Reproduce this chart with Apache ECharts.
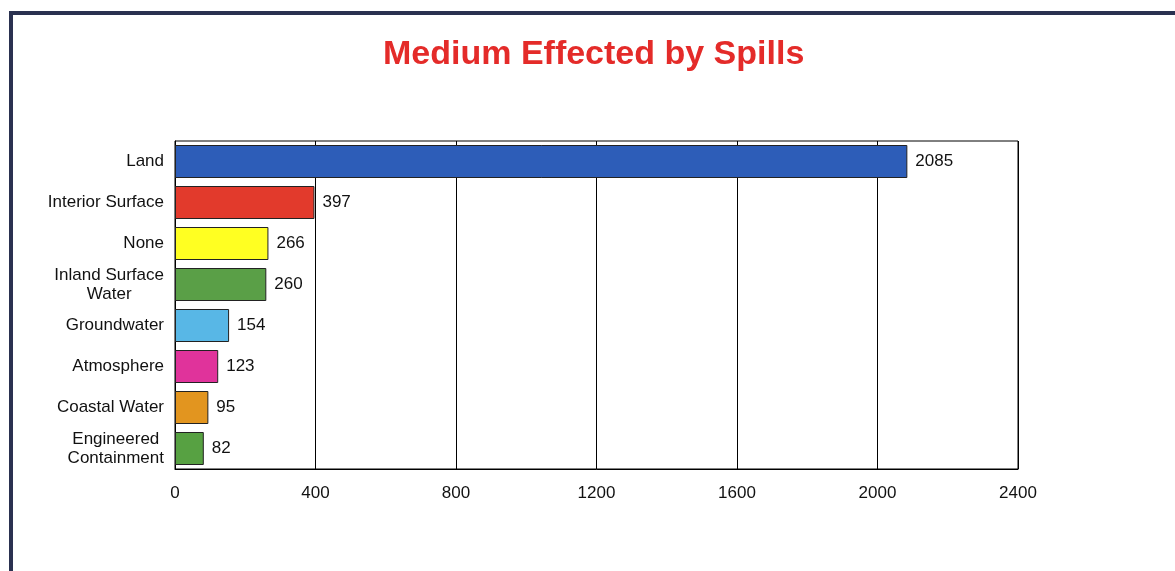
<!DOCTYPE html>
<html><head><meta charset="utf-8">
<script src="https://cdn.jsdelivr.net/npm/echarts@6/dist/echarts.min.js"></script>
<style>html,body{margin:0;padding:0;background:#fff}#c{width:1175px;height:571px}</style>
</head><body><div id="c"></div>
<script>
const categories = ["Land","Interior Surface","None","Inland Surface\nWater","Groundwater","Atmosphere","Coastal Water","Engineered\nContainment"];
const values = [2085,397,266,260,154,123,95,82];
const barColors = ["#2d5db8","#e23a2c","#ffff22","#5a9f47","#58b7e6","#e0339b","#e2951f","#57a142"];
const xTicks = [0,400,800,1200,1600,2000,2400];
const FONT = 'Liberation Sans, Arial, sans-serif';

const chart = echarts.init(document.getElementById('c'));
chart.setOption({
  backgroundColor:'#fff',
  animation:false,
  title:{text:'Medium Effected by Spills',left:378,top:33,
    textStyle:{color:'#e42b29',fontSize:34,fontWeight:'bold',fontFamily:FONT}},
  grid:{left:175,right:157,top:141,bottom:102,show:true,borderColor:'#000',borderWidth:1},
  xAxis:{type:'value',min:xTicks[0],max:xTicks[xTicks.length-1],interval:400,
    axisLine:{show:true,lineStyle:{color:'#000'}},axisTick:{show:false},
    axisLabel:{color:'#111',fontSize:17,margin:16,fontFamily:FONT,formatter:v=>String(v)},
    splitLine:{show:true,lineStyle:{color:'#000',width:1}}},
  yAxis:{type:'category',data:categories,inverse:true,
    axisLine:{show:true,lineStyle:{color:'#000'}},axisTick:{show:false},
    axisLabel:{color:'#111',fontSize:17,margin:11,lineHeight:19,align:'right',fontFamily:FONT,
      formatter:v=>v.indexOf('\n')<0?v:v.split('\n').map(l=>'{c|'+l+'}').join('\n'),
      rich:{c:{align:'center',fontSize:17,lineHeight:19,color:'#111',fontFamily:FONT}}}},
  series:[{type:'bar',barWidth:33,
    data:values.map((v,i)=>({value:v,itemStyle:{color:barColors[i]}})),
    itemStyle:{borderColor:'#222',borderWidth:1},
    label:{show:true,position:'right',distance:8,color:'#111',fontSize:17,fontFamily:FONT}}],
  graphic:[
    {type:'rect',shape:{x:9,y:11,width:4,height:560},style:{fill:'#2a3150'},silent:true},
    {type:'rect',shape:{x:9,y:11,width:1166,height:4},style:{fill:'#2a3150'},silent:true}
  ]
});
</script></body></html>
